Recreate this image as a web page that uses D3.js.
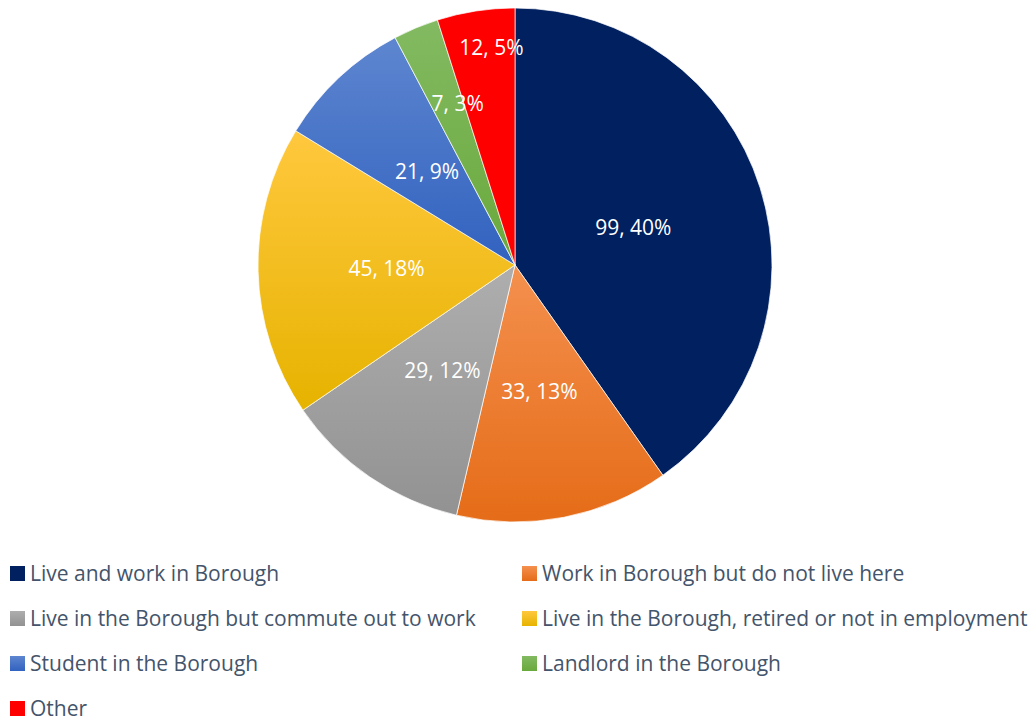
<!DOCTYPE html>
<html><head><meta charset="utf-8">
<script src="https://cdn.jsdelivr.net/npm/d3@7"></script>
<style>body{margin:0;background:#fff}svg{display:block}</style>
</head><body>
<svg id="chart" width="1033" height="720"></svg>
<script>
const categories = ["Live and work in Borough","Work in Borough but do not live here","Live in the Borough but commute out to work","Live in the Borough, retired or not in employment","Student in the Borough","Landlord in the Borough","Other"];
const values = [99,33,29,45,21,7,12];
const percentLabels = ["40%","13%","12%","18%","9%","3%","5%"];
const colorsTop = ["#002060","#F4904E","#AEAEAE","#FFC83E","#5E86D0","#83BA62","#FF0000"];
const colorsBottom = ["#002060","#E56C18","#929292","#E6B300","#3162BF","#69A93B","#FF0000"];
const labelRadiusFrac = [0.483,0.5,0.5,0.5,0.5,0.68,0.855];
const labelNudgeX = [0,0,0,0,0,10,10];

const FONT = "'Open Sans', 'Noto Sans', sans-serif";
const svg = d3.select("#chart");
const cx = 515, cy = 265, R = 257;
const defs = svg.append("defs");
categories.forEach((c,i)=>{
  const g = defs.append("linearGradient").attr("id","g"+i).attr("x1",0).attr("y1",0).attr("x2",0).attr("y2",1);
  g.append("stop").attr("offset","0%").attr("stop-color",colorsTop[i]);
  g.append("stop").attr("offset","100%").attr("stop-color",colorsBottom[i]);
});
const pie = d3.pie().sort(null).value(d=>d);
const arcs = pie(values);
const arc = d3.arc().innerRadius(0).outerRadius(R);
const gp = svg.append("g").attr("transform",`translate(${cx},${cy})`);
gp.selectAll("path").data(arcs).join("path")
  .attr("d",arc).attr("fill",(d,i)=>`url(#g${i})`)
  .attr("stroke","#fff").attr("stroke-width",0.7);
gp.selectAll("text").data(arcs).join("text")
  .attr("transform",(d,i)=>{
    const a=(d.startAngle+d.endAngle)/2, r=R*labelRadiusFrac[i];
    return `translate(${Math.sin(a)*r+labelNudgeX[i]},${-Math.cos(a)*r})`;})
  .attr("text-anchor","middle").attr("dy","0.35em")
  .attr("fill","#fff").style("font-family",FONT).style("font-size","21px")
  .text((d,i)=>`${values[i]}, ${percentLabels[i]}`);

const lg = svg.append("g");
const items = lg.selectAll("g").data(categories).join("g")
  .attr("transform",(d,i)=>`translate(${i%2===0?10:522},${566+Math.floor(i/2)*45})`);
items.append("rect").attr("width",15).attr("height",15).attr("fill",(d,i)=>`url(#g${i})`);
items.append("text").attr("x",20).attr("y",14.5)
  .attr("fill","#44546A").style("font-family",FONT).style("font-size","21px")
  .text(d=>d);
</script>
</body></html>
